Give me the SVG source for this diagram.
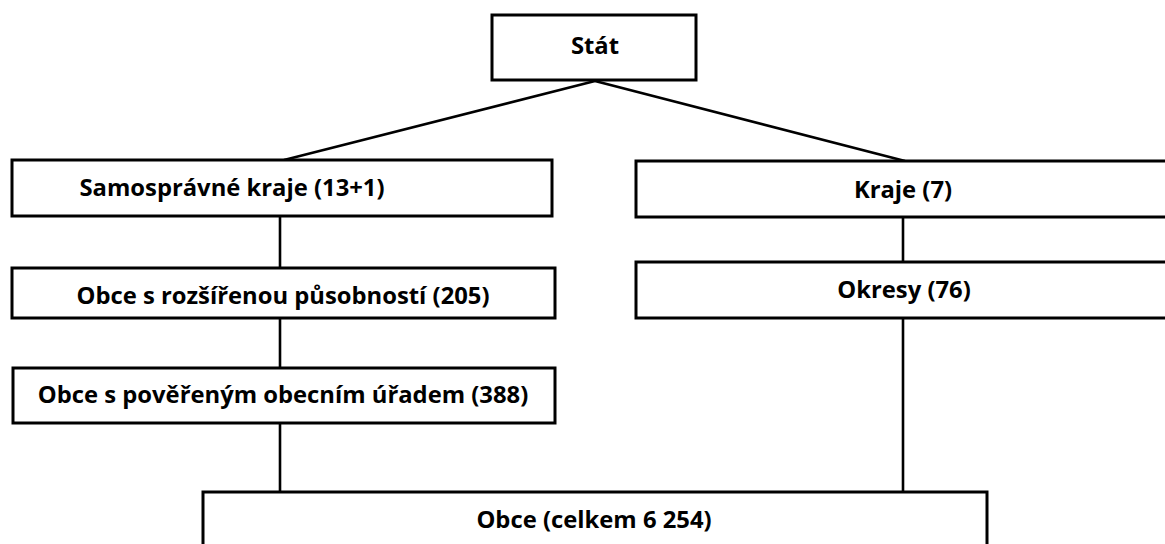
<svg xmlns="http://www.w3.org/2000/svg" width="1165" height="544" viewBox="0 0 1165 544">
<style>
.box{fill:#fff;stroke:#000;stroke-width:3}
.lbl{font-family:"Open Sans","Liberation Sans",sans-serif;font-weight:bold;font-size:23.8px;fill:#000;text-anchor:middle}
.con{stroke:#000;stroke-width:2.6;fill:none}
</style>
<rect width="1165" height="544" fill="#fff"/>
<g id="connectors">
<line class="con" x1="595" y1="81" x2="284" y2="160"/>
<line class="con" x1="595" y1="81" x2="905" y2="161"/>
<line class="con" x1="280" y1="216" x2="280" y2="268"/>
<line class="con" x1="280" y1="318" x2="280" y2="368"/>
<line class="con" x1="280" y1="423" x2="280" y2="492"/>
<line class="con" x1="903" y1="217" x2="903" y2="262"/>
<line class="con" x1="903" y1="318" x2="903" y2="492"/>
</g>
<g id="stat"><rect class="box" x="492" y="15" width="204" height="65"/><text class="lbl" x="595" y="54">Stát</text></g>
<g id="samospravne"><rect class="box" x="12" y="160" width="540" height="56"/><text class="lbl" x="232" y="196">Samosprávné kraje (13+1)</text></g>
<g id="kraje"><rect class="box" x="636" y="161" width="540" height="56"/><text class="lbl" x="903" y="198">Kraje (7)</text></g>
<g id="orp"><rect class="box" x="12" y="268" width="543" height="50"/><text class="lbl" x="283" y="304">Obce s rozšířenou působností (205)</text></g>
<g id="okresy"><rect class="box" x="636" y="262" width="540" height="56"/><text class="lbl" x="904" y="298">Okresy (76)</text></g>
<g id="pou"><rect class="box" x="13" y="368" width="542" height="55"/><text class="lbl" x="283" y="403">Obce s pověřeným obecním úřadem (388)</text></g>
<g id="obce"><rect class="box" x="203" y="492" width="784" height="70"/><text class="lbl" x="594" y="528">Obce (celkem 6 254)</text></g>
</svg>
